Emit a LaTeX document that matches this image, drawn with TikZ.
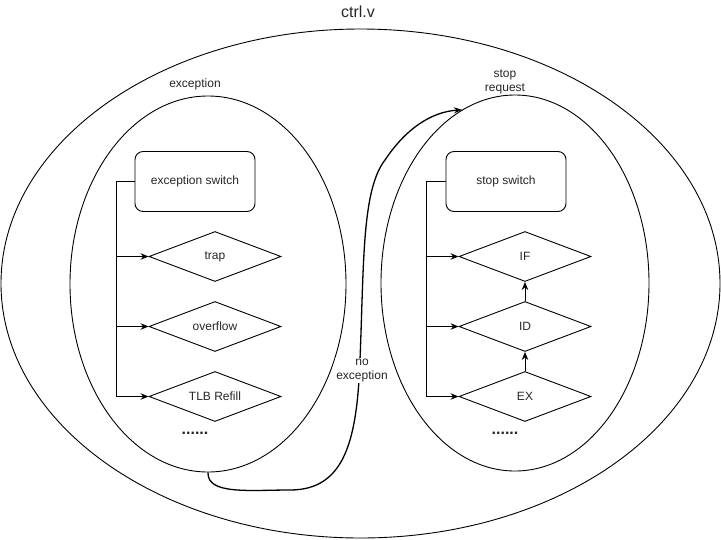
\documentclass[tikz,border=0pt]{standalone}
\usepackage{fontspec}
\setmainfont{Liberation Sans}
\usetikzlibrary{shapes.geometric,arrows.meta}
\begin{document}
\begin{tikzpicture}[x=1pt,y=-1pt,
  every node/.style={font=\fontsize{12}{14}\selectfont, text=black!85},
  region/.style={draw, line width=0.9pt, ellipse, inner sep=0pt},
  switchbox/.style={draw, line width=0.9pt, rounded corners=8pt, minimum width=120, minimum height=60, inner sep=0pt},
  cond/.style={draw, line width=0.9pt, diamond, aspect=2.64, minimum width=132, minimum height=50, inner sep=0pt},
  bus/.style={line width=0.9pt, -{Stealth[length=8pt,width=6.5pt]}},
  flow/.style={line width=1.3pt, -{Stealth[length=7pt,width=6pt,open]}},
  dots/.style={font=\fontsize{16}{16}\bfseries\selectfont}
]
\useasboundingbox (0,0) rectangle (721,539);

% enclosing module
\node[region, minimum width=719, minimum height=509] (top) at (360.5,283.5) {};
\node[font=\fontsize{16}{18}\selectfont, anchor=base] (title) at (358,17) {ctrl.v};

% exception region
\node[region, minimum width=276, minimum height=376] (exc) at (208,284) {};
\node[anchor=base] (exclbl) at (195,87) {exception};
\node[switchbox] (exsw) at (195,181.5) {exception switch};
\node[cond] (trap) at (215,256.5) {trap};
\node[cond] (ovf) at (215,326.5) {overflow};
\node[cond] (tlb) at (215,396.5) {TLB Refill};
\node[dots] (exdots) at (195,433) {......};
\coordinate (lbus) at (116,181.5);
\draw[bus] (exsw.west) -- (lbus) |- (trap.west);
\draw[bus] (exsw.west) -- (lbus) |- (ovf.west);
\draw[bus] (exsw.west) -- (lbus) |- (tlb.west);

% stop request region
\node[region, minimum width=268, minimum height=376] (stp) at (515,283) {};
\node[align=center] (stplbl) at (505,81.5) {stop\\request};
\node[switchbox] (stsw) at (506,181.5) {stop switch};
\node[cond] (ifs) at (525,256.5) {IF};
\node[cond] (ids) at (525,326.5) {ID};
\node[cond] (exs) at (525,396.5) {EX};
\node[dots] (stdots) at (505,433) {......};
\coordinate (rbus) at (426,181.5);
\draw[bus] (stsw.west) -- (rbus) |- (ifs.west);
\draw[bus] (stsw.west) -- (rbus) |- (ids.west);
\draw[bus] (stsw.west) -- (rbus) |- (exs.west);
\draw[bus] (exs.north) -- (ids.south);
\draw[bus] (ids.north) -- (ifs.south);

% hand-over from exception to stop request
\draw[line width=1.3pt, -{Stealth[length=8pt,width=6pt]}] (exc.south)
  .. controls (207,495) and (250,490) .. (290,490)
  .. controls (345,490) and (357,440) .. (360,360)
  .. controls (364,260) and (362,190) .. (385,160)
  .. controls (405,130) and (430,112) .. (stp.107);
\node[align=center, fill=white, inner sep=1pt] (noexc) at (362,370.5) {no\\exception};
\end{tikzpicture}
\end{document}
